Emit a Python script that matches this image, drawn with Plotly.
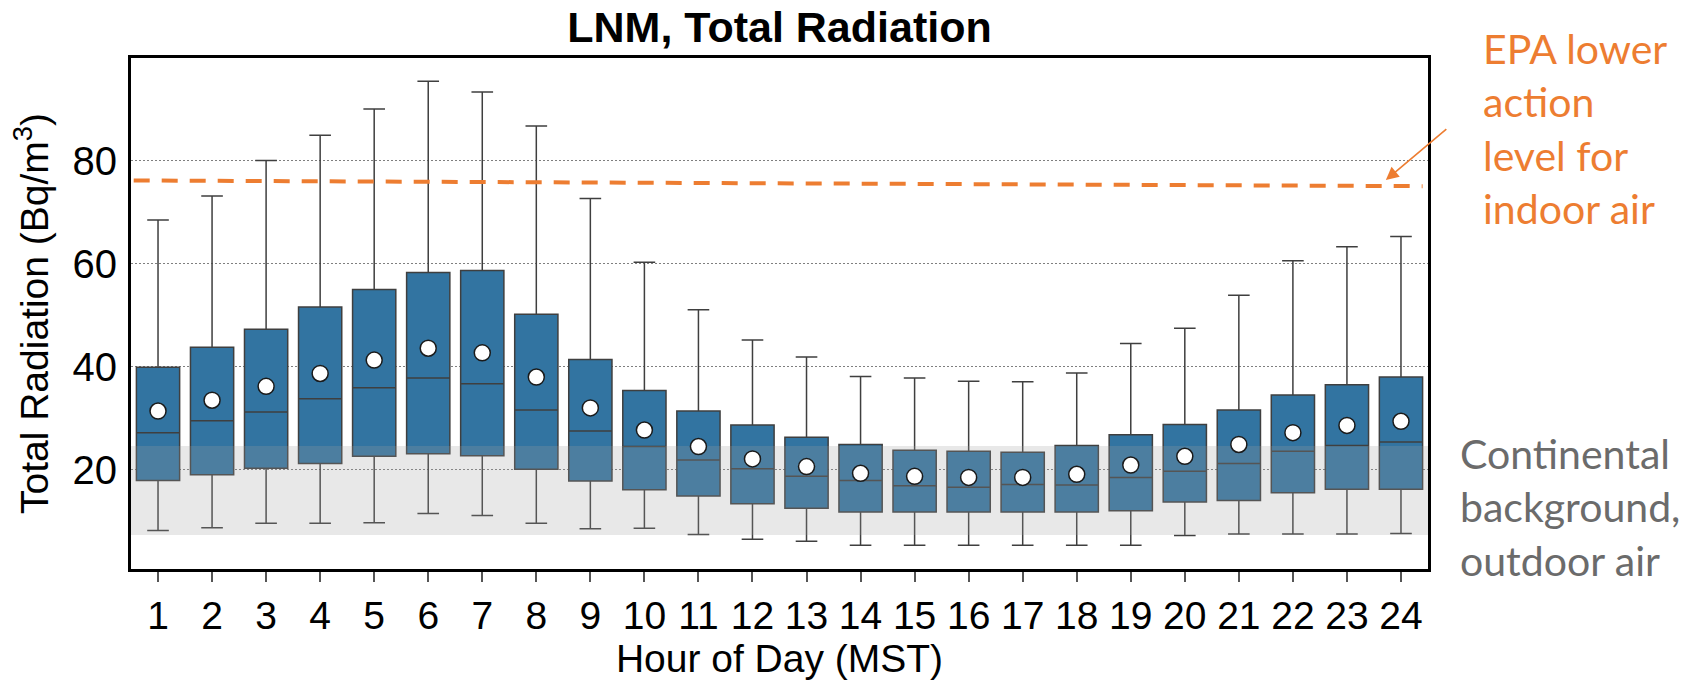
import plotly.graph_objects as go

# Hourly radon statistics (Bq/m^3) at LNM
hours = list(range(1, 25))
q1 = [17.9, 19.0, 20.3, 21.2, 22.6, 23.1, 22.7, 20.1, 17.8, 16.1, 14.9, 13.4,
      12.5, 11.8, 11.8, 11.8, 11.8, 11.8, 12.0, 13.7, 14.0, 15.5, 16.2, 16.2]
median = [27.2, 29.5, 31.2, 33.8, 35.9, 37.8, 36.7, 31.6, 27.5, 24.5, 21.9, 20.2,
          18.7, 17.9, 16.9, 16.6, 17.1, 17.0, 18.5, 19.7, 21.2, 23.6, 24.7, 25.4]
q3 = [39.9, 43.8, 47.3, 51.6, 55.0, 58.3, 58.7, 50.2, 41.4, 35.4, 31.4, 28.7,
      26.3, 24.9, 23.8, 23.6, 23.4, 24.7, 26.8, 28.8, 31.6, 34.5, 36.5, 38.0]
whisker_low = [8.2, 8.7, 9.6, 9.6, 9.7, 11.5, 11.1, 9.6, 8.5, 8.6, 7.4, 6.5,
               6.1, 5.3, 5.3, 5.3, 5.3, 5.3, 5.3, 7.2, 7.5, 7.5, 7.5, 7.6]
whisker_high = [68.5, 73.2, 80.1, 85.0, 90.1, 95.5, 93.4, 86.8, 72.7, 60.3, 51.1, 45.2,
                41.9, 38.1, 37.8, 37.2, 37.1, 38.8, 44.5, 47.5, 53.9, 60.6, 63.3, 65.3]
mean = [31.4, 33.5, 36.2, 38.7, 41.3, 43.6, 42.7, 38.0, 32.0, 27.7, 24.5, 22.1,
        20.6, 19.3, 18.7, 18.5, 18.5, 19.1, 20.9, 22.6, 24.9, 27.2, 28.6, 29.4]

# Continental background range for outdoor air
background = [7.3, 24.6]
# EPA lower action level line (left end, right end)
epa_x = [0.55, 24.4]
epa_y = [76.2, 75.1]

x_range = [0.5, 24.5]
y_range = [0.7, 100]
y_ticks = [20, 40, 60, 80]

BOX_BLUE = "#3274a1"
EDGE = "#3f3f3f"
ORANGE = "#ED7D31"
AXIS_FONT = "Liberation Sans, Arial, sans-serif"
NOTE_FONT = "Lato, Carlito, Calibri, sans-serif"

fig = go.Figure()

fig.add_trace(go.Box(
    x=hours, q1=q1, median=median, q3=q3,
    lowerfence=whisker_low, upperfence=whisker_high,
    width=0.8, whiskerwidth=0.5,
    fillcolor=BOX_BLUE, line=dict(color=EDGE, width=1.5),
    boxpoints=False, showlegend=False, hoverinfo="skip",
))

# translucent band over the boxes
fig.add_trace(go.Scatter(
    x=[x_range[0], x_range[1], x_range[1], x_range[0], x_range[0]],
    y=[background[0], background[0], background[1], background[1], background[0]],
    mode="lines", fill="toself", fillcolor="rgba(160,160,160,0.24)",
    line=dict(width=0), showlegend=False, hoverinfo="skip",
))

# mean markers
fig.add_trace(go.Scatter(
    x=hours, y=mean, mode="markers",
    marker=dict(symbol="circle", size=16, color="white",
                line=dict(color="#1a1a1a", width=1.5)),
    showlegend=False, hoverinfo="skip",
))

# EPA lower action level
fig.add_trace(go.Scatter(
    x=epa_x, y=epa_y, mode="lines",
    line=dict(color=ORANGE, width=4, dash="16px,12px"),
    showlegend=False, hoverinfo="skip",
))

fig.update_layout(
    width=1703, height=684, autosize=False,
    margin=dict(l=131, r=275, t=58, b=108),
    paper_bgcolor="white", plot_bgcolor="white",
    title=dict(text="<b>LNM, Total Radiation</b>", x=0.5, xref="paper",
               y=1 - 27 / 684, yref="container", yanchor="middle", xanchor="center",
               font=dict(family=AXIS_FONT, size=43, color="black")),
    font=dict(family=AXIS_FONT, color="black"),
)

fig.update_xaxes(
    range=x_range, tickmode="array", tickvals=hours, ticktext=[str(h) for h in hours],
    ticks="outside", ticklen=10, tickwidth=1.5, tickcolor="#555555",
    tickfont=dict(size=39, family=AXIS_FONT, color="black"),
    showgrid=False, zeroline=False,
    showline=True, mirror=True, linecolor="black", linewidth=3,
    title=dict(text="Hour of Day (MST)", font=dict(size=39, family=AXIS_FONT, color="black"),
               standoff=8),
)

fig.update_yaxes(
    range=y_range, tickmode="array", tickvals=y_ticks,
    ticks="", ticklabelstandoff=3,
    tickfont=dict(size=40, family=AXIS_FONT, color="black"),
    showgrid=True, gridcolor="#7f7f7f", gridwidth=1, griddash="2px,2px",
    zeroline=False,
    showline=True, mirror=True, linecolor="black", linewidth=3,
    title=dict(text="Total Radiation (Bq/m<sup>3</sup>)",
               font=dict(size=39, family=AXIS_FONT, color="black"), standoff=12),
)

# side notes
fig.add_annotation(
    xref="paper", yref="paper", x=(1481 - 131) / 1297, y=(576 - 22) / 518,
    xanchor="left", yanchor="top", align="left", showarrow=False,
    text="EPA lower<br>action<br>level for<br>indoor air",
    font=dict(family=NOTE_FONT, size=41, color=ORANGE),
)
fig.add_annotation(
    xref="paper", yref="paper", x=(1458 - 131) / 1297, y=(576 - 432) / 518,
    xanchor="left", yanchor="top", align="left", showarrow=False,
    text="Continental<br>background,<br>outdoor air",
    font=dict(family=NOTE_FONT, size=41, color="#6b6b6b"),
)
# pointer to the EPA line
fig.add_annotation(
    x=23.72, y=76.3, xref="x", yref="y", text="", showarrow=True,
    ax=62, ay=-52, axref="pixel", ayref="pixel",
    arrowhead=2, arrowsize=1.6, arrowwidth=1.6, arrowcolor=ORANGE, standoff=0,
)

fig.write_html("out.html")
